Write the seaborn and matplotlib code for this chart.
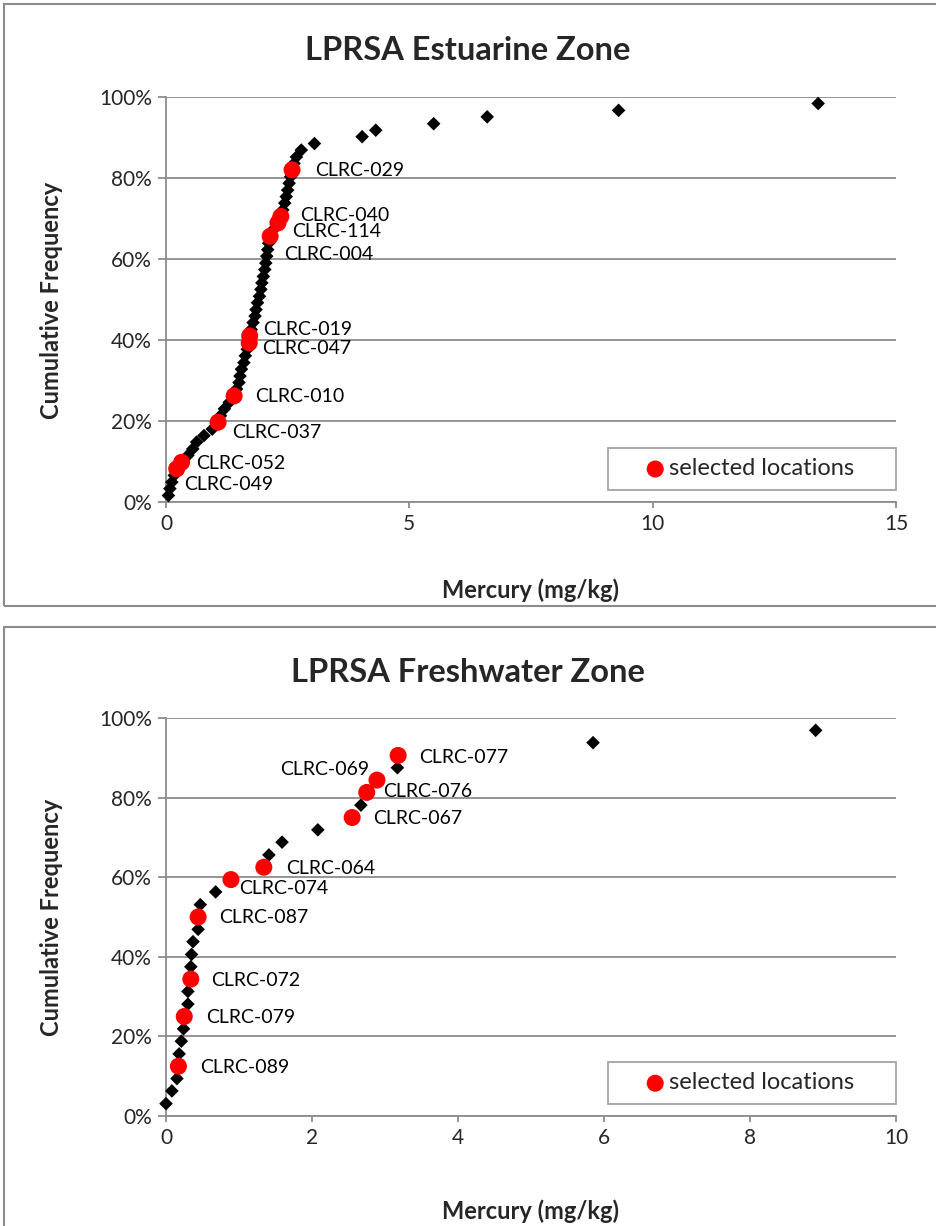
import matplotlib
matplotlib.use("Agg")
import pandas as pd
import matplotlib.pyplot as plt
import seaborn as sns
from matplotlib.patches import Rectangle
from matplotlib.ticker import PercentFormatter

# seaborn style, then fonts (set_style resets font.family)
sns.set_style("white")
plt.rcParams["font.family"] = ["Lato", "DejaVu Sans"]

# --- estuarine zone: all samples (mercury, cumulative frequency %)
est_hg = [0.05, 0.08, 0.12, 0.17, 0.22, 0.32, 0.45, 0.55, 0.63, 0.78,
          0.95, 1.07, 1.12, 1.20, 1.30, 1.40, 1.45, 1.50, 1.52, 1.55,
          1.60, 1.63, 1.67, 1.71, 1.72, 1.75, 1.79, 1.83, 1.85, 1.88,
          1.92, 1.95, 1.97, 2.00, 2.03, 2.05, 2.07, 2.09, 2.11, 2.14,
          2.20, 2.30, 2.36, 2.40, 2.44, 2.47, 2.50, 2.53, 2.56, 2.59,
          2.63, 2.68, 2.78, 3.05, 4.03, 4.31, 5.50, 6.60, 9.30, 13.40]
est_freq = [1.6, 3.3, 4.9, 6.6, 8.2, 9.8, 11.5, 13.1, 14.8, 16.4,
            18.0, 19.7, 21.3, 23.0, 24.6, 26.2, 27.9, 29.5, 31.1, 32.8,
            34.4, 36.1, 37.7, 39.3, 41.0, 42.6, 44.3, 45.9, 47.5, 49.2,
            50.8, 52.5, 54.1, 55.7, 57.4, 59.0, 60.7, 62.3, 63.9, 65.6,
            67.2, 68.9, 70.5, 72.1, 73.8, 75.4, 77.0, 78.7, 80.3, 82.0,
            83.6, 85.2, 86.9, 88.5, 90.2, 91.8, 93.4, 95.1, 96.7, 98.4]

# selected locations, estuarine
est_sel_names = ["CLRC-049", "CLRC-052", "CLRC-037", "CLRC-010", "CLRC-047",
                 "CLRC-019", "CLRC-004", "CLRC-114", "CLRC-040", "CLRC-029"]
est_sel_hg = [0.22, 0.32, 1.07, 1.40, 1.71, 1.72, 2.14, 2.30, 2.36, 2.59]
est_sel_freq = [8.2, 9.8, 19.7, 26.2, 39.3, 41.0, 65.6, 68.9, 70.5, 82.0]

# --- freshwater zone
fw_hg = [0.00, 0.08, 0.15, 0.17, 0.18, 0.21, 0.24, 0.25, 0.30, 0.30,
         0.34, 0.34, 0.35, 0.37, 0.44, 0.44, 0.47, 0.68, 0.89, 1.34,
         1.41, 1.59, 2.08, 2.55, 2.67, 2.75, 2.89, 3.17, 3.18, 5.85, 8.90]
fw_freq = [3.1, 6.3, 9.4, 12.5, 15.6, 18.8, 21.9, 25.0, 28.1, 31.3,
           34.4, 37.5, 40.6, 43.8, 46.9, 50.0, 53.1, 56.3, 59.4, 62.5,
           65.6, 68.8, 71.9, 75.0, 78.1, 81.3, 84.4, 87.5, 90.6, 93.8, 96.9]

fw_sel_names = ["CLRC-089", "CLRC-079", "CLRC-072", "CLRC-087", "CLRC-074",
                "CLRC-064", "CLRC-067", "CLRC-076", "CLRC-069", "CLRC-077"]
fw_sel_hg = [0.17, 0.25, 0.34, 0.44, 0.89, 1.34, 2.55, 2.75, 2.89, 3.18]
fw_sel_freq = [12.5, 25.0, 34.4, 50.0, 59.4, 62.5, 75.0, 81.3, 84.4, 90.6]

# label offsets in pixels (dx, dy, ha)
est_offsets = [(7, -16, "left"), (15, -1, "left"), (14, -10, "left"), (21, -1, "left"),
               (13, -6, "left"), (13, 6, "left"), (14, -18, "left"), (14, -9, "left"),
               (19, 1, "left"), (23, -1, "left")]
fw_offsets = [(22, -1, "left"), (22, -1, "left"), (20, -1, "left"), (21, 0, "left"),
              (8, -9, "left"), (22, -1, "left"), (21, -1, "left"), (16, 1, "left"),
              (-8, 11, "right"), (21, -2, "left")]

W, H = 936, 1226
GRAY = "#8c8c8c"

fig = plt.figure(figsize=(W / 100, H / 100), dpi=100)


def fx(px):
    return px / W


def fy(py):
    return 1 - py / H


def draw_panel(ax, hg, freq, sel_names, sel_hg, sel_freq, offsets, xmax, xstep):
    df_all = pd.DataFrame({"hg": hg, "freq": freq})
    df_sel = pd.DataFrame({"name": sel_names, "hg": sel_hg, "freq": sel_freq})

    sns.scatterplot(ax=ax, data=df_all, x="hg", y="freq", marker="D", color="black",
                    s=48, edgecolor="none", legend=False, zorder=3, clip_on=False)
    sns.scatterplot(ax=ax, data=df_sel, x="hg", y="freq", marker="o", color="red",
                    s=150, edgecolor="none", label="selected locations", zorder=4)

    for (name, x, y), (dx, dy, ha) in zip(df_sel[["name", "hg", "freq"]].values, offsets):
        ax.annotate(name, (x, y), xytext=(dx, dy), textcoords="offset pixels",
                    ha=ha, va="center", fontsize=14, color="black", zorder=5)

    ax.set_xlim(0, xmax)
    ax.set_ylim(0, 100)
    ax.set_xticks(range(0, xmax + 1, xstep))
    ax.set_yticks(range(0, 101, 20))
    ax.yaxis.set_major_formatter(PercentFormatter(decimals=0))
    ax.yaxis.grid(True, color=GRAY, lw=1.3)
    ax.set_axisbelow(True)
    for side in ["top", "right"]:
        ax.spines[side].set_visible(False)
    for side in ["left", "bottom"]:
        ax.spines[side].set_color(GRAY)
        ax.spines[side].set_linewidth(1.3)
    ax.tick_params(axis="y", left=True, direction="out", length=6, width=1.3,
                   color=GRAY, labelsize=15, pad=4)
    ax.tick_params(axis="x", bottom=True, direction="out", length=4, width=1.3,
                   color=GRAY, labelsize=15, pad=5)
    ax.set_xlabel("")
    ax.set_ylabel("")

    # legend box stretched to the reference width, content left aligned
    leg = ax.legend(loc="lower left", bbox_to_anchor=(442 / 730, 0.03, 288 / 730, 0.1),
                    mode="expand", borderaxespad=0,
                    fontsize=17, frameon=True, fancybox=False, borderpad=0.45,
                    handletextpad=-0.95, handlelength=3.1, markerscale=1.0)
    leg.get_frame().set_edgecolor(GRAY)
    leg.get_frame().set_linewidth(1.3)


# top panel
ax1 = fig.add_axes([fx(166), fy(502), fx(730), 405 / H])
draw_panel(ax1, est_hg, est_freq, est_sel_names, est_sel_hg, est_sel_freq,
           est_offsets, 15, 5)

# bottom panel
ax2 = fig.add_axes([fx(166), fy(1116), fx(730), 398 / H])
draw_panel(ax2, fw_hg, fw_freq, fw_sel_names, fw_sel_hg, fw_sel_freq,
           fw_offsets, 10, 2)

# chart frames
fig.add_artist(Rectangle((fx(4), fy(606)), 1.0, (606 - 4) / H, transform=fig.transFigure,
                         fill=False, edgecolor=GRAY, lw=1.5))
fig.add_artist(Rectangle((fx(4), fy(1240)), 1.0, (1240 - 627) / H, transform=fig.transFigure,
                         fill=False, edgecolor=GRAY, lw=1.5))

# titles and axis labels
fig.text(0.5, fy(51), "LPRSA Estuarine Zone", ha="center", va="center",
         fontsize=23.5, fontweight="bold")
fig.text(0.5, fy(673), "LPRSA Freshwater Zone", ha="center", va="center",
         fontsize=23.5, fontweight="bold")
fig.text(fx(531), fy(590), "Mercury (mg/kg)", ha="center", va="center",
         fontsize=17, fontweight="bold")
fig.text(fx(531), fy(1211), "Mercury (mg/kg)", ha="center", va="center",
         fontsize=17, fontweight="bold")
fig.text(fx(52), fy(300), "Cumulative Frequency", ha="center", va="center",
         rotation=90, fontsize=17, fontweight="bold")
fig.text(fx(52), fy(917), "Cumulative Frequency", ha="center", va="center",
         rotation=90, fontsize=17, fontweight="bold")

fig.savefig("out.png", dpi=100)
